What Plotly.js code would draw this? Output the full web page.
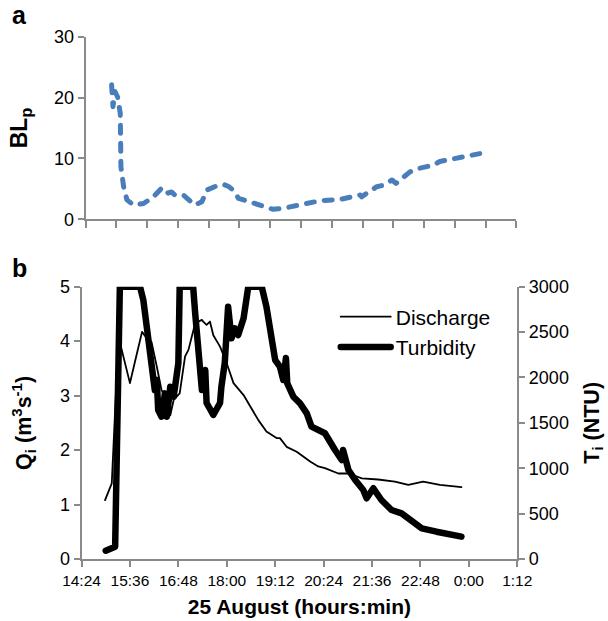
<!DOCTYPE html>
<html>
<head>
<meta charset="utf-8">
<script src="https://cdn.plot.ly/plotly-3.0.1.min.js"></script>
<style>html,body{margin:0;padding:0;background:#fff;}#chart{width:608px;height:621px;}
#chart .js-line{stroke-linecap:round;stroke-linejoin:round;}</style>
</head>
<body>
<div id="chart"></div>
<script>
// Panel a: BLp
const blpTimes = ["15:03","15:05","15:08","15:12","15:16","15:17","15:21","15:26","15:36","15:51","16:06","16:18","16:23","16:28","16:33","16:38","16:51","16:58","17:08","17:19","17:26","17:39","17:51","17:59","18:06","18:14","18:29","18:46","19:06","19:21","19:42","20:17","20:47","21:17","21:19","21:42","21:52","22:05","22:11","22:17","22:32","22:47","23:07","23:17","23:37","23:52","00:17"];
const blpValues = [22.1,18.5,21.0,20.1,17.4,8.6,5.4,3.2,2.35,2.6,3.7,5.1,5.1,4.3,4.5,4.0,4.0,3.2,2.35,2.9,4.8,5.4,5.75,5.4,4.8,3.45,2.9,2.35,1.64,1.8,2.35,3.06,3.28,4.0,3.7,5.36,5.6,6.46,5.9,6.46,7.8,8.4,8.9,9.5,10.0,10.3,10.8];

// Panel b: discharge (m3/s)
const qTimes = ["14:59","15:09","15:19","15:36","15:44","15:54","16:03","16:08","16:16","16:23","16:31","16:36","16:41","16:50","16:58","17:03","17:13","17:23","17:25","17:30","17:35","17:40","17:50","18:00","18:10","18:25","18:35","18:47","18:59","19:14","19:19","19:29","19:44","20:04","20:16","20:26","20:46","21:01","21:21","21:45","22:10","22:30","22:52","23:17","23:49"];
const qValues = [1.08,1.39,4.08,3.23,3.65,4.17,4.02,3.99,3.53,3.10,2.92,2.64,2.92,3.04,3.72,3.84,4.33,4.39,4.36,4.30,4.36,4.11,3.90,3.59,3.23,3.01,2.80,2.55,2.34,2.22,2.22,2.06,1.97,1.79,1.70,1.67,1.57,1.57,1.48,1.46,1.42,1.36,1.42,1.36,1.32];

// Panel b: turbidity (NTU)
const tTimes = ["15:00","15:06","15:14","15:21","15:51","15:56","16:13","16:16","16:18","16:23","16:28","16:31","16:36","16:41","16:48","16:50","17:10","17:13","17:23","17:28","17:30","17:40","17:50","17:52","17:57","18:02","18:07","18:12","18:17","18:25","18:32","18:52","18:59","19:12","19:19","19:24","19:28","19:30","19:39","19:49","19:59","20:06","20:26","20:41","20:51","20:53","21:01","21:11","21:23","21:28","21:38","21:50","22:05","22:20","22:35","22:50","23:12","23:34","23:49"];
const tValues = [91,118,135,3000,3000,2850,1862,1972,1642,1568,1825,1568,1898,1788,2156,3000,3000,2710,1862,2082,1719,1587,1719,1898,2159,2780,2431,2541,2468,2652,3000,3000,2780,2192,2119,1972,2214,1935,1788,1715,1605,1458,1385,1201,1091,1201,980,870,760,669,779,650,540,503,430,338,301,264,246];

const xTickStart = "14:24";
const xTickEnd = "01:12";
const seriesNames = ["Discharge", "Turbidity"];

function toDate(hm) {
  const h = parseInt(hm.split(":")[0], 10);
  return (h < 12 ? "2013-08-26 " : "2013-08-25 ") + hm;
}

const xr = [toDate(xTickStart), toDate(xTickEnd)];
const greyAxis = "#8a8a8a";
const fam = "Liberation Sans, Arial, Helvetica, sans-serif";

const traces = [
  {x: blpTimes.map(toDate), y: blpValues, type: "scatter", mode: "lines", xaxis: "x", yaxis: "y",
   line: {color: "#4a7ebb", width: 5, dash: "8px,10px"}, showlegend: false, name: "BLp"},
  {x: qTimes.map(toDate), y: qValues, type: "scatter", mode: "lines", xaxis: "x2", yaxis: "y2",
   line: {color: "#000", width: 1.8}, name: seriesNames[0]},
  {x: tTimes.map(toDate), y: tValues, type: "scatter", mode: "lines", xaxis: "x2", yaxis: "y3",
   line: {color: "#000", width: 6.5}, name: seriesNames[1]}
];

const axBase = {showgrid: false, zeroline: false, showline: true, linecolor: greyAxis, linewidth: 2,
  ticks: "outside", tickcolor: greyAxis, tickwidth: 2, ticklen: 6, fixedrange: true};

const layout = {
  width: 608, height: 621,
  margin: {l: 60, r: 60, t: 20, b: 40},
  paper_bgcolor: "#fff", plot_bgcolor: "#fff",
  font: {family: fam, color: "#000"},
  showlegend: true,
  legend: {x: 0.565, y: 0.507, xanchor: "left", yanchor: "top", bgcolor: "rgba(0,0,0,0)",
    font: {size: 21, family: fam}, itemwidth: 50, tracegroupgap: 0},
  xaxis: Object.assign({}, axBase, {type: "date", domain: [0.0527, 0.935], anchor: "y", range: xr,
    tick0: xr[0], dtick: 648 * 60000 / 14, showticklabels: false, ticklen: 7}),
  yaxis: Object.assign({}, axBase, {domain: [0.6447, 0.9702], anchor: "x", range: [0, 30], dtick: 10,
    tickfont: {size: 18}, title: {text: "BL<sub>p</sub>", font: {size: 23, weight: "bold"}, standoff: 20}}),
  xaxis2: Object.assign({}, axBase, {type: "date", domain: [0.0441, 0.937], anchor: "y2", range: xr,
    tick0: xr[0], dtick: 72 * 60000, tickformat: "%-H:%M", tickfont: {size: 15.5},
    title: {text: "25 August (hours:min)", font: {size: 21, weight: "bold"}, standoff: 12}}),
  yaxis2: Object.assign({}, axBase, {domain: [0.0392, 0.5246], anchor: "x2", range: [0, 5], dtick: 1,
    tickfont: {size: 18},
    title: {text: "Q<sub>i</sub> (m<sup>3</sup>s<sup>-1</sup>)", font: {size: 21.5, weight: "bold"}, standoff: 22}}),
  yaxis3: Object.assign({}, axBase, {overlaying: "y2", side: "right", anchor: "x2", range: [0, 3000], dtick: 500,
    tickfont: {size: 18},
    title: {text: "T<sub>i</sub> (NTU)", font: {size: 21.5, weight: "bold"}, standoff: 16}}),
  annotations: [
    {text: "<b>a</b>", xref: "paper", yref: "paper", x: -0.103, y: 1.009, xanchor: "left", yanchor: "middle",
     showarrow: false, font: {size: 25, family: fam}},
    {text: "<b>b</b>", xref: "paper", yref: "paper", x: -0.103, y: 0.558, xanchor: "left", yanchor: "middle",
     showarrow: false, font: {size: 25, family: fam}}
  ]
};

Plotly.newPlot("chart", traces, layout, {displayModeBar: false, staticPlot: true});
</script>
</body>
</html>
